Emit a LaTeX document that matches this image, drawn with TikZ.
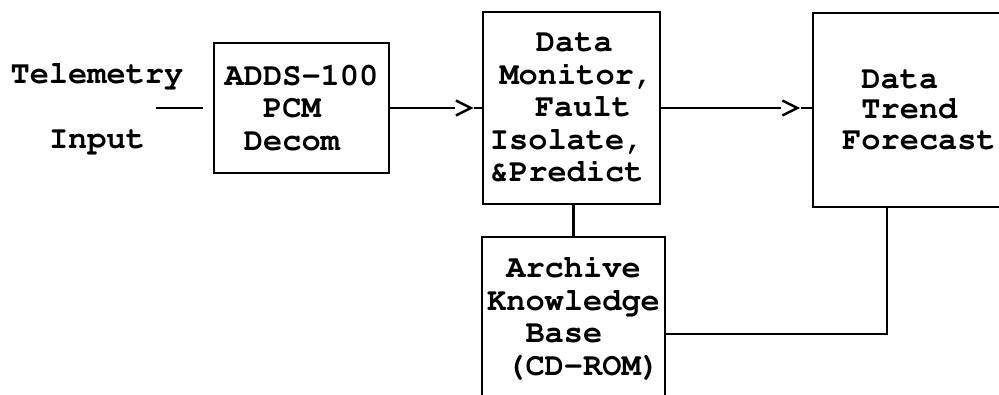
\documentclass[tikz,border=0pt]{standalone}
\usepackage[T1]{fontenc}
\usetikzlibrary{decorations.markings}
\tikzset{
  txt/.style={font=\fontfamily{pcr}\bfseries\fontsize{32}{32.5}\selectfont, inner sep=0pt},
  blk/.style={txt, draw, line width=2.2pt, align=left},
  conn/.style={line width=2.2pt},
  chev/.style={conn, postaction={decorate}, decoration={markings,
    mark=at position -#1 with {
      \fill[white] (-16pt,-2.6pt) rectangle (3.5pt,2.6pt);
      \draw[line width=2.4pt, line join=miter] (-15pt,7.5pt) -- (0pt,0pt) -- (-15pt,-7.5pt);
    }}}
}
\begin{document}
\begin{tikzpicture}[x=1pt,y=-1pt]
\useasboundingbox (0,0) rectangle (999,394);
\fill[white] (0,0) rectangle (999,394);
\node[txt, anchor=base] (tel) at (97,83) {Telemetry};
\node[txt, anchor=base] (inp) at (97,148) {Input};
\coordinate (tin) at (156,108);
\node[blk, minimum width=175pt, minimum height=130pt] (adds) at (301.5,108)
  {ADDS-100\\\hspace*{1.2em}PCM\\\hspace*{0.6em}Decom};
\node[blk, minimum width=177pt, minimum height=192pt] (mon) at (571.5,108)
  {\hspace*{1.44em}Data\\\hspace*{0.3em}Monitor,\\\hspace*{1.41em}Fault\\Isolate,\\\&Predict};
\node[blk, minimum width=183pt, minimum height=161pt] (arc) at (573.5,317.5)
  {\hspace*{0.6em}Archive\\Knowledge\\\hspace*{1.2em}Base\\\hspace*{0.6em}(CD-ROM)};
\node[blk, font=\fontfamily{pcr}\bfseries\fontsize{32}{30.5}\selectfont, minimum width=212pt, minimum height=194pt] (fc) at (919,110)
  {\hspace*{0.6em}Data\\\hspace*{0.6em}Trend\\Forecast};
\draw[conn, shorten >=10pt] (tin) -- (adds.west);
\draw[chev=11pt] (adds.east) -- (mon.west);
\draw[chev=14.5pt] (mon.east) -- (mon.east -| fc.west);
\draw[conn] (arc.north) -- (arc.north |- mon.south);
\draw[conn] ([xshift=-32pt]fc.south) |- ([yshift=-16.5pt]arc.east);
\end{tikzpicture}
\end{document}
